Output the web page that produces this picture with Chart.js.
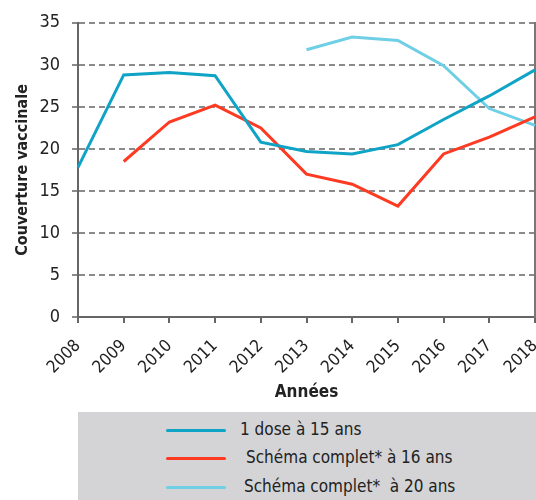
<!DOCTYPE html>
<html>
<head>
<meta charset="utf-8">
<script src="https://cdn.jsdelivr.net/npm/chart.js@4.4.1/dist/chart.umd.min.js"></script>
<style>
  html, body { margin: 0; padding: 0; background: #fff; overflow: hidden; }
  #wrap { position: relative; width: 536px; height: 500px; }
  #legend { position: absolute; left: 78px; top: 412px; width: 458px; height: 88px; background: #d4d4d6;
            font-family: "DejaVu Sans", sans-serif; font-stretch: condensed; font-size: 17px; color: #222; }
  .item { position: absolute; left: 88px; height: 20px; }
  .item .ln { position: absolute; left: 0; top: 9px; width: 60px; height: 3px; border-radius: 2px; }
  .item .tx { position: absolute; top: -1px; white-space: pre; }
</style>
</head>
<body>
<div id="wrap">
  <canvas id="myChart" width="536" height="412"></canvas>
  <div id="legend"></div>
</div>
<script>
// data
var years = ["2008","2009","2010","2011","2012","2013","2014","2015","2016","2017","2018"];
var dose15 = [17.8, 28.8, 29.1, 28.7, 20.8, 19.7, 19.4, 20.5, 23.5, 26.3, 29.4];
var complet16 = [null, 18.5, 23.2, 25.2, 22.5, 17.0, 15.8, 13.2, 19.4, 21.4, 23.8];
var complet20 = [null, null, null, null, null, 31.8, 33.3, 32.9, 29.9, 24.8, 22.8];
var seriesNames = ["1 dose à 15 ans", "Schéma complet* à 16 ans", "Schéma complet*  à 20 ans"];
var seriesColors = ["#0fa3c6", "#ff3a22", "#6fcfe4"];
var yTicks = [0, 5, 10, 15, 20, 25, 30, 35];

// condensed face of DejaVu Sans (passed through the weight slot of the font string)
var fam = '"DejaVu Sans", sans-serif';

var ctx = document.getElementById('myChart').getContext('2d');
var myChart = new Chart(ctx, {
  type: 'line',
  data: {
    labels: years,
    datasets: [
      { label: seriesNames[0], data: dose15, borderColor: seriesColors[0], borderWidth: 3 },
      { label: seriesNames[1], data: complet16, borderColor: seriesColors[1], borderWidth: 3 },
      { label: seriesNames[2], data: complet20, borderColor: seriesColors[2], borderWidth: 3 }
    ]
  },
  options: {
    responsive: false,
    animation: false,
    layout: { padding: { top: 22, right: 1, left: 0, bottom: 0 } },
    elements: { point: { radius: 0 }, line: { tension: 0 } },
    plugins: { legend: { display: false }, tooltip: { enabled: false } },
    scales: {
      x: {
        offset: false,
        afterFit: function (s) { s.height = 95; s.paddingRight = 0; s.paddingLeft = 0; },
        border: { display: true, color: '#666', width: 2 },
        grid: { drawOnChartArea: false, drawTicks: true, tickLength: 6, color: '#666', lineWidth: 2 },
        ticks: { autoSkip: false, minRotation: 45, maxRotation: 45, padding: 13,
                 color: '#222', font: { family: fam, size: 17, weight: 'condensed' } },
        title: { display: true, text: 'Années', color: '#222', padding: { top: 0, bottom: 9 },
                 font: { family: fam, size: 17, weight: 'bold condensed' } }
      },
      y: {
        min: 0, max: 35,
        afterFit: function (s) { s.width = 78; },
        afterBuildTicks: function (s) { s.ticks = yTicks.map(function (v) { return { value: v }; }); },
        border: { display: true, color: '#666', width: 2, dash: [6, 4] },
        grid: { color: '#8a8a8a', lineWidth: 2, tickLength: 6, drawTicks: true, tickBorderDash: [6, 4] },
        ticks: { padding: 12, color: '#222', font: { family: fam, size: 18, weight: 'condensed' } },
        title: { display: true, text: 'Couverture vaccinale', color: '#222', padding: { top: 13, bottom: 0 },
                 font: { family: fam, size: 16, weight: 'bold condensed' } }
      },
      y2: {
        position: 'right', min: 0, max: 35,
        afterFit: function (s) { s.width = 0; },
        border: { display: true, color: '#777', width: 2 },
        grid: { display: false },
        ticks: { display: false }
      }
    }
  }
});

// legend box
var legend = document.getElementById('legend');
var tops = [8, 36, 65];
var textX = [74, 80, 78];
seriesNames.forEach(function (name, i) {
  var it = document.createElement('div');
  it.className = 'item';
  it.style.top = tops[i] + 'px';
  it.innerHTML = '<div class="ln" style="background:' + seriesColors[i] + '"></div>' +
                 '<div class="tx" style="left:' + textX[i] + 'px">' + name + '</div>';
  legend.appendChild(it);
});
</script>
</body>
</html>
